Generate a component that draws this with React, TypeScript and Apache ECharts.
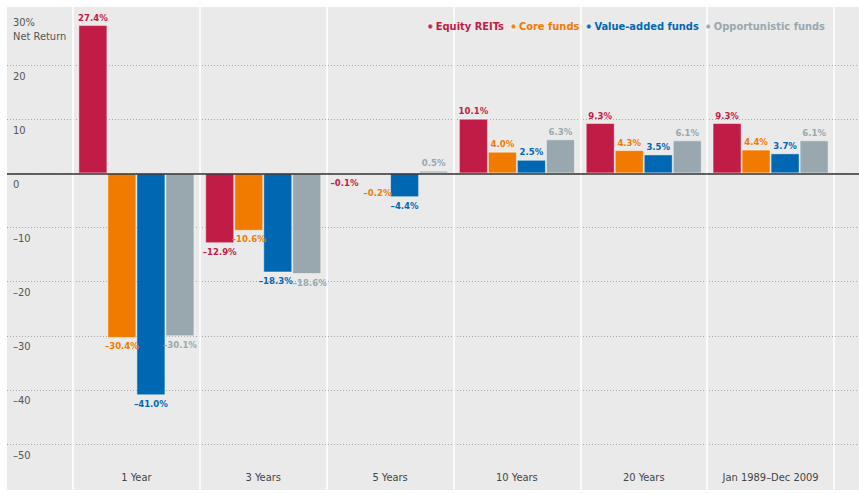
import React, { useEffect, useRef } from "react";
import * as echarts from "echarts";

const categories = ["1 Year", "3 Years", "5 Years", "10 Years", "20 Years", "Jan 1989\u2013Dec 2009"];
const seriesNames = ["Equity REITs", "Core funds", "Value-added funds", "Opportunistic funds"];
const equityREITs = [27.4, -12.9, -0.1, 10.1, 9.3, 9.3];
const coreFunds = [-30.4, -10.6, -0.2, 4.0, 4.3, 4.4];
const valueAddedFunds = [-41.0, -18.3, -4.4, 2.5, 3.5, 3.7];
const opportunisticFunds = [-30.1, -18.6, 0.5, 6.3, 6.1, 6.1];
const seriesValues = [equityREITs, coreFunds, valueAddedFunds, opportunisticFunds];
const seriesColors = ["#c01c45", "#f07b00", "#0068b3", "#99a8af"];
const yMin = -50;
const yMax = 30;
const yInterval = 10;

// label nudges (series index, data index, dx, dy) to keep crowded labels apart
const labelNudges = [
  { s: 1, i: 2, dx: 2, dy: 10 },
  { s: 0, i: 2, dx: -2, dy: 0 },
  { s: 2, i: 1, dx: -2, dy: 0 },
  { s: 3, i: 1, dx: 3, dy: 0 },
];

const FONT = "'DejaVu Sans Condensed', 'Liberation Sans Narrow', sans-serif";

const fmt = (v: number) => (v < 0 ? "\u2013" + Math.abs(v) : String(v));
const fmtPct = (v: number) => (v < 0 ? "\u2013" + Math.abs(v).toFixed(1) : v.toFixed(1)) + "%";

export default function App() {
  const ref = useRef<HTMLDivElement>(null);
  useEffect(() => {
    if (!ref.current) return;
    const chart = echarts.init(ref.current, null, { renderer: "svg" });
    const option: any = {
      animation: false,
      backgroundColor: "#eaeaea",
      textStyle: { fontFamily: FONT },
      legend: {
        right: 29,
        top: 9,
        icon: "circle",
        itemWidth: 5,
        itemHeight: 5,
        itemGap: 6,
        selectedMode: false,
        data: seriesNames.map((n, i) => ({
          name: n,
          textStyle: { color: seriesColors[i], fontWeight: "bold", fontSize: 11, fontFamily: FONT, padding: [0, 0, 0, -2] },
        })),
      },
      grid: [
        { left: 66, right: 25, top: 4, bottom: 46 },
        { left: 0, right: 0, top: 4, bottom: 46 },
        { left: 66, right: 25, top: 0, bottom: 0 },
      ],
      xAxis: [
        {
          type: "category",
          gridIndex: 0,
          data: categories,
          axisLine: { show: false },
          axisTick: { show: false },
          splitLine: { show: false },
          axisLabel: { interval: 0, margin: 28, color: "#444", fontSize: 11, fontFamily: FONT },
        },
        {
          type: "value",
          gridIndex: 1,
          min: 0,
          max: 1,
          z: 10,
          axisLine: { show: true, onZero: true, lineStyle: { color: "#333", width: 1.5 } },
          axisTick: { show: false },
          axisLabel: { show: false },
          splitLine: { show: false },
        },
        {
          type: "category",
          gridIndex: 2,
          data: categories,
          axisLine: { show: false },
          axisTick: { show: false },
          axisLabel: { show: false },
          splitLine: { show: true, interval: 0, lineStyle: { color: "#ffffff", width: 1.5 } },
        },
      ],
      yAxis: [
        {
          type: "value",
          gridIndex: 0,
          min: yMin,
          max: yMax,
          interval: yInterval,
          axisLine: { show: false },
          axisTick: { show: false },
          axisLabel: { show: false },
          splitLine: { show: false },
        },
        {
          type: "value",
          gridIndex: 1,
          min: yMin,
          max: yMax,
          interval: yInterval,
          axisLine: { show: false },
          axisTick: { show: false },
          splitLine: { show: true, showMaxLine: false, lineStyle: { color: "#a8a8a8", type: [1, 2], width: 1 } },
          axisLabel: {
            inside: true,
            margin: 6,
            verticalAlign: "top",
            padding: [4, 0, 0, 0],
            lineHeight: 14,
            color: "#555",
            fontSize: 11,
            fontFamily: FONT,
            formatter: (v: number) => (v === yMax ? v + "%\nNet Return" : fmt(v)),
          },
        },
        {
          type: "value",
          gridIndex: 2,
          show: false,
          min: 0,
          max: 1,
        },
      ],
      series: seriesNames.map((name, si) => ({
        name,
        type: "bar",
        xAxisIndex: 0,
        yAxisIndex: 0,
        barGap: "0%",
        barCategoryGap: "8.5%",
        itemStyle: { color: seriesColors[si], borderColor: "rgba(255,255,255,0.45)", borderWidth: 1 },
        label: {
          show: true,
          color: seriesColors[si],
          fontWeight: "bold",
          fontSize: 9.5,
          fontFamily: FONT,
          distance: 3,
          formatter: (p: any) => fmtPct(p.value),
        },
        data: seriesValues[si].map((v, di) => {
          const n = labelNudges.find((x) => x.s === si && x.i === di);
          const label: any = { position: v < 0 ? "bottom" : "top" };
          if (n) label.offset = [n.dx, n.dy];
          return { value: v, label };
        }),
      })),
    };
    chart.setOption(option);
    return () => chart.dispose();
  }, []);
  return (
    <div style={{ position: "absolute", left: 0, top: 0, width: 859, height: 493, background: "#fff" }}>
      <div ref={ref} style={{ position: "absolute", left: 7, top: 7, width: 852, height: 483 }} />
    </div>
  );
}
